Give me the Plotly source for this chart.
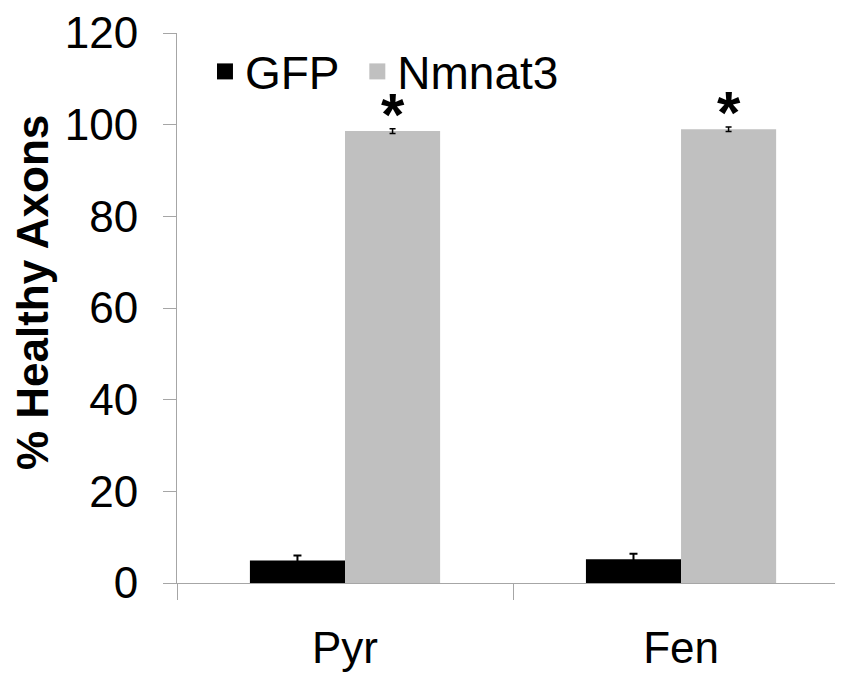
import plotly.graph_objects as go

categories = ["Pyr", "Fen"]
gfp_values = [4.9, 5.2]
gfp_errors = [1.1, 1.2]
nmnat3_values = [98.6, 99.0]
nmnat3_errors = [0.5, 0.5]
significance = ["*", "*"]
y_ticks = [0, 20, 40, 60, 80, 100, 120]
y_title = "% Healthy Axons"
series_names = ["GFP", "Nmnat3"]

FONT = "Liberation Sans, Arial, sans-serif"
GFP_COLOR = "#000000"
NMNAT_COLOR = "#c0c0c0"
AXIS_COLOR = "#a6a6a6"

BARGAP = 0.434
X_RANGE = [-0.5, 1.482]
FIG_W, FIG_H = 835, 671
MARGIN = dict(l=169, r=0, t=23, b=96)

fig = go.Figure()
fig.add_trace(go.Bar(
    x=categories, y=gfp_values, name=series_names[0], showlegend=False,
    marker=dict(color=GFP_COLOR, line=dict(width=0)),
    error_y=dict(type="data", array=gfp_errors, color="#000000", thickness=2, width=4),
))
fig.add_trace(go.Bar(
    x=categories, y=nmnat3_values, name=series_names[1], showlegend=False,
    marker=dict(color=NMNAT_COLOR, line=dict(width=0)),
    error_y=dict(type="data", array=nmnat3_errors, color="#000000", thickness=1.5, width=3),
))
# legend entries with larger square swatches (nbsp adds spacing between entries)
for name, color, pad in [(series_names[0], GFP_COLOR, "\u00a0"), (series_names[1], NMNAT_COLOR, "")]:
    fig.add_trace(go.Scatter(
        x=[None], y=[None], mode="markers", name=name + pad,
        marker=dict(symbol="square", size=17, color=color, line=dict(width=0)),
    ))

# significance stars above the Nmnat3 bars
plot_w = FIG_W - MARGIN["l"] - MARGIN["r"]
px_per_unit = plot_w / (X_RANGE[1] - X_RANGE[0])
bar_offset_px = (1 - BARGAP) / 4 * px_per_unit
for cat, v, e, s in zip(categories, nmnat3_values, nmnat3_errors, significance):
    fig.add_annotation(
        x=cat, y=v + e, xref="x", yref="y", text="<b>" + s + "</b>",
        showarrow=False, xanchor="center", yanchor="bottom",
        xshift=bar_offset_px, yshift=-21,
        font=dict(family=FONT, size=60, color="#000000"),
    )

# y-axis title (placed slightly above the axis centre as in the reference)
fig.add_annotation(
    x=-0.217, y=0.528, xref="paper", yref="paper", text="<b>" + y_title + "</b>",
    textangle=-90, showarrow=False, xanchor="center", yanchor="middle",
    font=dict(family=FONT, size=44, color="#000000"),
)

fig.update_layout(
    width=FIG_W, height=FIG_H,
    margin=MARGIN,
    paper_bgcolor="white", plot_bgcolor="white",
    barmode="group", bargap=BARGAP, bargroupgap=0,
    font=dict(family=FONT, size=44, color="#000000"),
    showlegend=True,
    legend=dict(orientation="h", x=0.042, y=0.93, xanchor="left", yanchor="middle",
                font=dict(size=46), bgcolor="rgba(0,0,0,0)", itemwidth=30,
                traceorder="normal"),
    xaxis=dict(range=X_RANGE, showline=True, linecolor=AXIS_COLOR, linewidth=1,
               ticks="outside", tickson="boundaries", ticklen=16, tickcolor=AXIS_COLOR,
               tickfont=dict(size=44), ticklabelstandoff=26,
               showgrid=False, zeroline=False),
    yaxis=dict(range=[0, 120], tickvals=y_ticks, showline=True, linecolor=AXIS_COLOR,
               linewidth=1, ticks="outside", ticklen=13, tickcolor=AXIS_COLOR,
               tickfont=dict(size=44), ticklabelstandoff=16, ticklabeloverflow="allow",
               showgrid=False, zeroline=False),
)

fig.write_html("out.html")
